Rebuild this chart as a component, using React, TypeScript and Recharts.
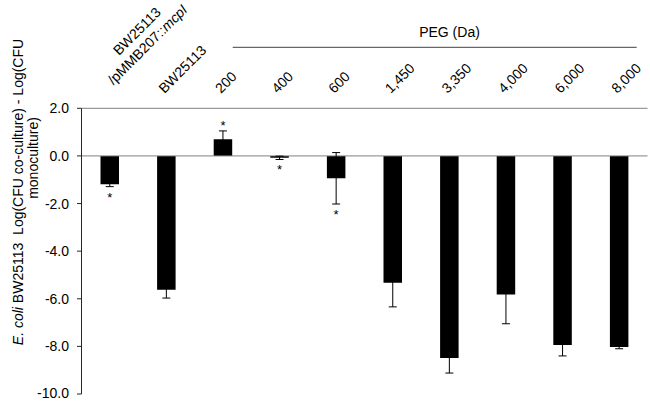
import React from 'react';
import { BarChart, Bar, XAxis, YAxis, ErrorBar, ReferenceLine, LabelList, Label } from 'recharts';

// categories along the top axis
const categories = ['BW25113 /pMMB207::mcpI', 'BW25113', '200', '400', '600', '1,450', '3,350', '4,000', '6,000', '8,000'];
// Log(CFU co-culture) - Log(CFU monoculture)
const values = [-1.19, -5.62, 0.7, -0.08, -0.94, -5.33, -8.49, -5.82, -7.94, -8.03];
const errors = [0.1, 0.35, 0.35, 0.07, 1.08, 1.01, 0.63, 1.23, 0.46, 0.07];
const significant = [true, false, true, true, true, false, false, false, false, false];
const yTicks = [2, 0, -2, -4, -6, -8, -10];

const data = categories.map((name, i) => ({ name, value: values[i], err: errors[i] }));

const FONT = 'Arial, "Liberation Sans", sans-serif';

function TopTick(props: any) {
  const { x, payload, index } = props;
  if (index === 0) {
    return (
      <g transform={`translate(${x - 2},94) rotate(-45)`}>
        <text x={65} y={-19} textAnchor="middle" fontSize={14} fill="#000">BW25113</text>
        <text x={63} y={-2} textAnchor="middle" fontSize={14} fill="#000">
          /pMMB207::<tspan fontStyle="italic">mcpI</tspan>
        </text>
      </g>
    );
  }
  return (
    <g transform={`translate(${x - 2},94) rotate(-45)`}>
      <text x={0} y={0} textAnchor="start" fontSize={14} fill="#000">{payload.value}</text>
    </g>
  );
}

function PegLabel() {
  return (
    <g>
      <text x={449.5} y={37} textAnchor="middle" fontSize={14} fill="#000">PEG (Da)</text>
      <line x1={232.7} y1={47.3} x2={636.7} y2={47.3} stroke="#404040" strokeWidth={1} />
    </g>
  );
}

function YLabel() {
  return (
    <g>
      <text transform="translate(23,192) rotate(-90)" textAnchor="middle" fontSize={14} fill="#000" style={{ whiteSpace: 'pre' }}>
        <tspan fontStyle="italic">E. coli</tspan> BW25113{'\u00A0\u00A0'}Log(CFU co-culture) - Log(CFU
      </text>
      <text transform="translate(38,158) rotate(-90)" textAnchor="middle" fontSize={14} fill="#000">
        monoculture)
      </text>
    </g>
  );
}

function Star(props: any) {
  const vb = props.viewBox && props.viewBox.width != null ? props.viewBox : props;
  const { x, y, width, height } = vb;
  const index = props.index;
  if (!significant[index]) return null;
  const v = values[index];
  const k = Math.abs(height) / Math.abs(v);
  const errPx = errors[index] * k;
  const cx = x + width / 2;
  const top = Math.min(y, y + height);
  const bottom = Math.max(y, y + height);
  const cy = v > 0 ? top - errPx - 8 : bottom + errPx + 8;
  return (
    <text x={cx} y={cy + 7} textAnchor="middle" fontSize={13} fill="#000">*</text>
  );
}

export default function App() {
  return (
    <div style={{ position: 'absolute', left: 0, top: 0, width: 650, height: 401, background: '#fff' }}>
      <BarChart
        width={650}
        height={401}
        data={data}
        margin={{ top: 0, right: 2.5, bottom: 7, left: 0 }}
        style={{ fontFamily: FONT }}
      >
        <XAxis
          dataKey="name"
          orientation="top"
          height={108.3}
          interval={0}
          axisLine={{ stroke: '#808080' }}
          tickLine={false}
          tick={<TopTick />}
        >
          <Label content={<PegLabel />} />
        </XAxis>
        <XAxis
          xAxisId="bottom"
          dataKey="name"
          orientation="bottom"
          height={0}
          axisLine={{ stroke: '#262626' }}
          tickLine={false}
          tick={false}
        />
        <YAxis
          domain={[-10, 2]}
          ticks={yTicks}
          allowDataOverflow
          width={81.5}
          tickFormatter={(v: number) => v.toFixed(1)}
          axisLine={{ stroke: '#262626' }}
          tickLine={{ stroke: '#262626' }}
          tickSize={4.5}
          tickMargin={8}
          tick={{ fontSize: 14, fill: '#000' }}
        >
          <Label content={<YLabel />} />
        </YAxis>
        <YAxis
          yAxisId="right"
          orientation="right"
          domain={[-10, 2]}
          width={0}
          axisLine={{ stroke: '#808080' }}
          tickLine={false}
          tick={false}
        />
        <ReferenceLine y={0} stroke="#808080" strokeWidth={1} />
        <Bar dataKey="value" fill="#000" barSize={18.5} isAnimationActive={false}>
          <ErrorBar dataKey="err" width={4} stroke="#000" strokeWidth={1} direction="y" />
          <LabelList dataKey="value" content={<Star />} />
        </Bar>
      </BarChart>
    </div>
  );
}
